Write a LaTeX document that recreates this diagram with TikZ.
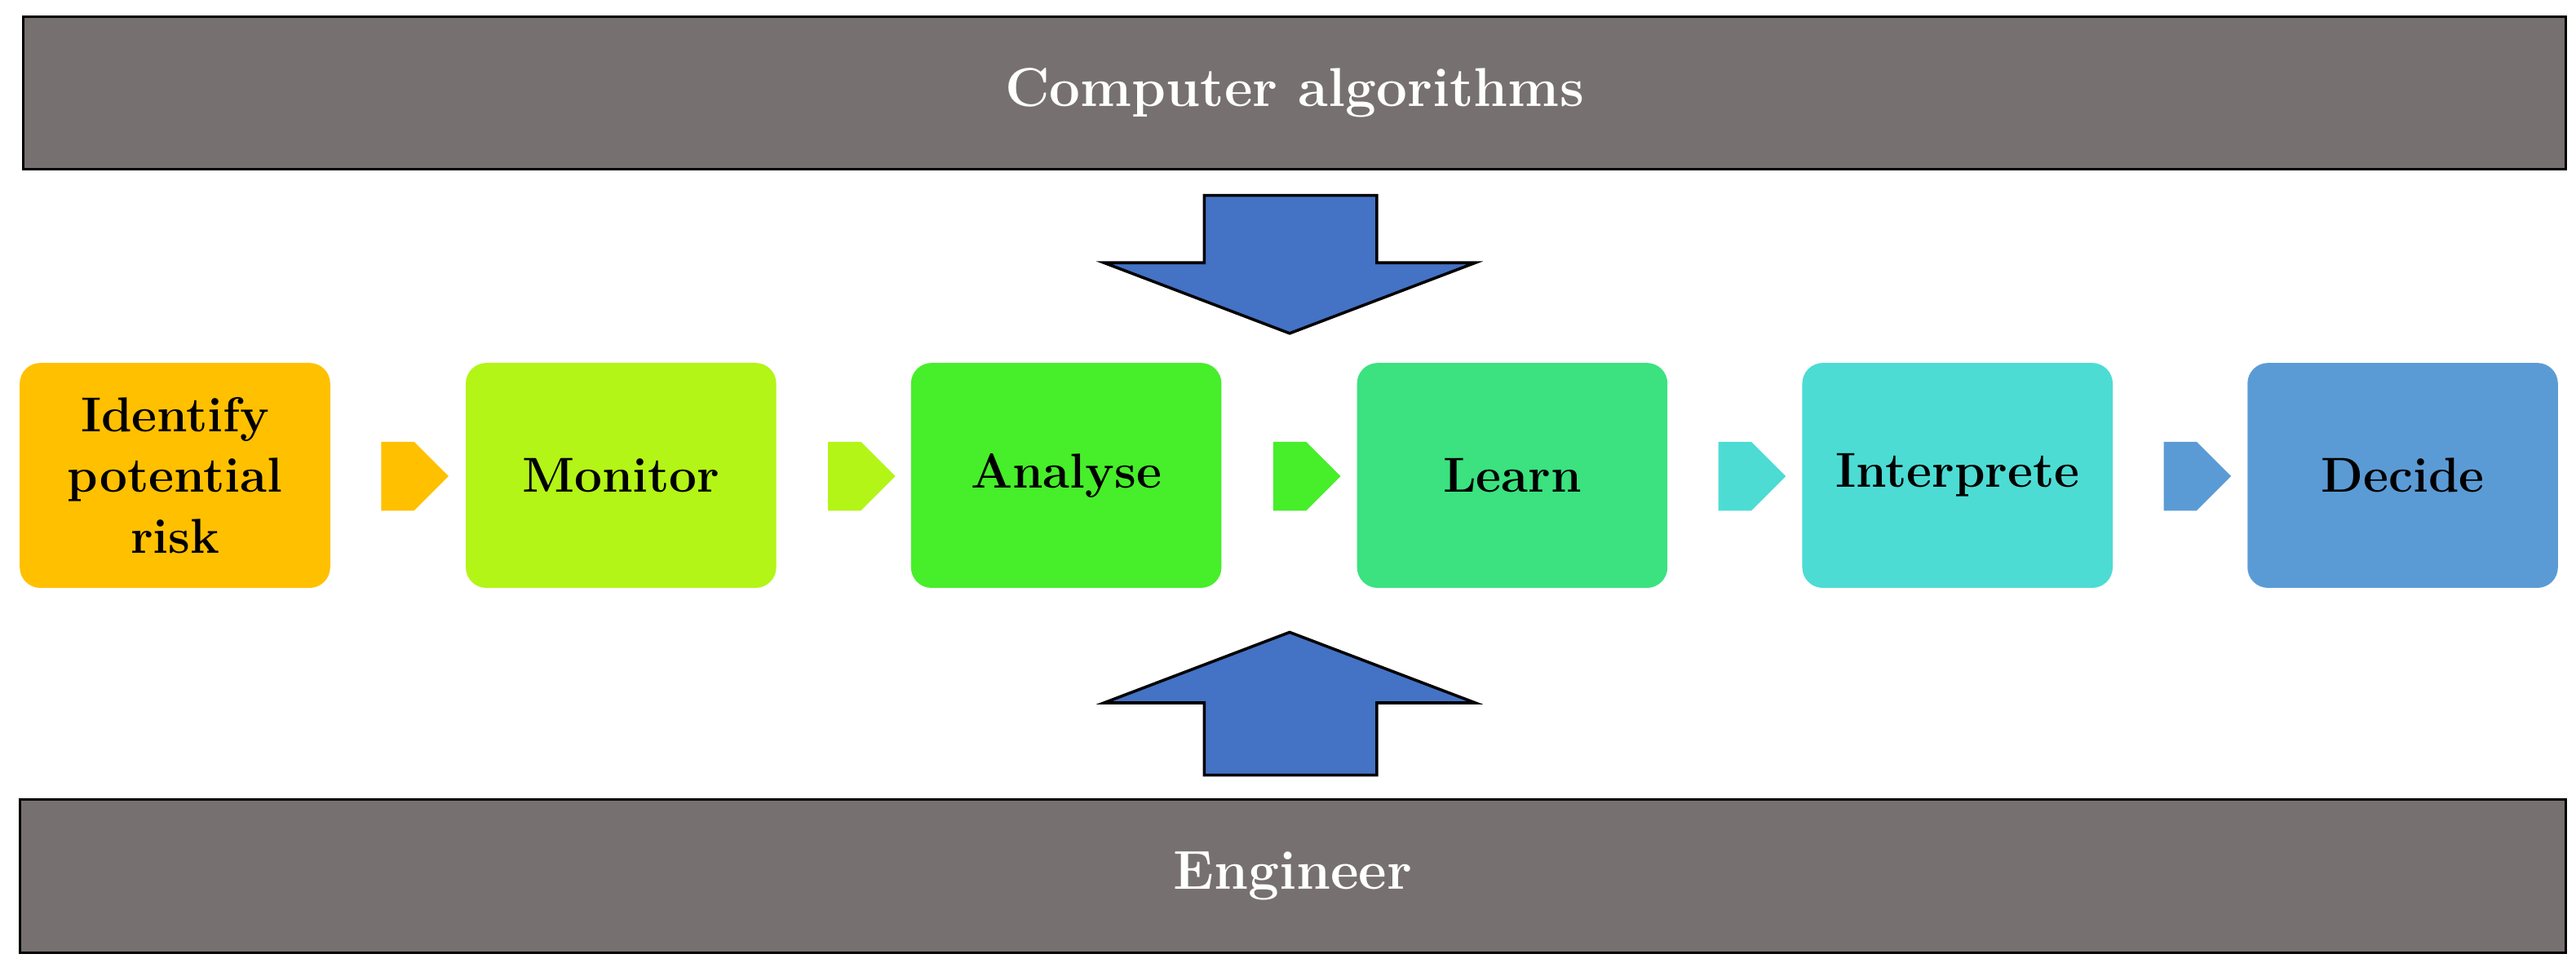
\documentclass[tikz,border=0pt]{standalone}
\usepackage{fontspec}
\setmainfont{Latin Modern Roman}
\usetikzlibrary{shapes.arrows}
\definecolor{gr}{HTML}{767170}
\definecolor{bl}{HTML}{4472C4}
\definecolor{c1}{HTML}{FFC000}
\definecolor{c2}{HTML}{B3F516}
\definecolor{c3}{HTML}{47EE2A}
\definecolor{c4}{HTML}{3BE27F}
\definecolor{c5}{HTML}{4CDCD4}
\definecolor{c6}{HTML}{5B9BD5}
\begin{document}
\begin{tikzpicture}[x=0.02cm,y=-0.02cm,
 band/.style={draw=black,line width=0.8pt,fill=gr,text=white,font=\bfseries\fontsize{19}{22}\selectfont},
 stepbox/.style={rounded corners=0.25cm,minimum width=3.78cm,minimum height=2.74cm,align=center,inner sep=0pt,font=\bfseries\fontsize{17}{21}\selectfont},
 sarr/.style={single arrow,minimum width=0.84cm,single arrow head extend=0pt,minimum height=0.82cm,inner sep=0pt,draw=none}]
\useasboundingbox (0,0) rectangle (1568,594);
\node[band,minimum width=30.96cm,minimum height=1.86cm,inner sep=0pt] (top) at (788,56.5) {Computer algorithms};
\node[band,minimum width=31cm,minimum height=1.86cm,inner sep=0pt] (bot) at (787,533.5) {Engineer};
\draw[fill=bl,line width=1pt] (733,119) -- (838,119) -- (838,160) -- (898,160) -- (785,203) -- (672,160) -- (733,160) -- cycle;
\draw[fill=bl,line width=1pt] (733,472) -- (838,472) -- (838,428) -- (898,428) -- (785,385) -- (672,428) -- (733,428) -- cycle;
\node[stepbox,fill=c1] (s1) at (106.5,289.5) {Identify\\potential\\risk};
\node[stepbox,fill=c2] (s2) at (378,289.5) {Monitor};
\node[stepbox,fill=c3] (s3) at (649,289.5) {Analyse};
\node[stepbox,fill=c4] (s4) at (920.5,289.5) {Learn};
\node[stepbox,fill=c5] (s5) at (1191.5,289.5) {Interprete};
\node[stepbox,fill=c6] (s6) at (1462.5,289.5) {Decide};
\node[sarr,fill=c1] (a1) at (242,290) {};
\node[sarr,fill=c2] (a2) at (514,290) {};
\node[sarr,fill=c3] (a3) at (785,290) {};
\node[sarr,fill=c5] (a4) at (1056,290) {};
\node[sarr,fill=c6] (a5) at (1327,290) {};
\end{tikzpicture}
\end{document}
